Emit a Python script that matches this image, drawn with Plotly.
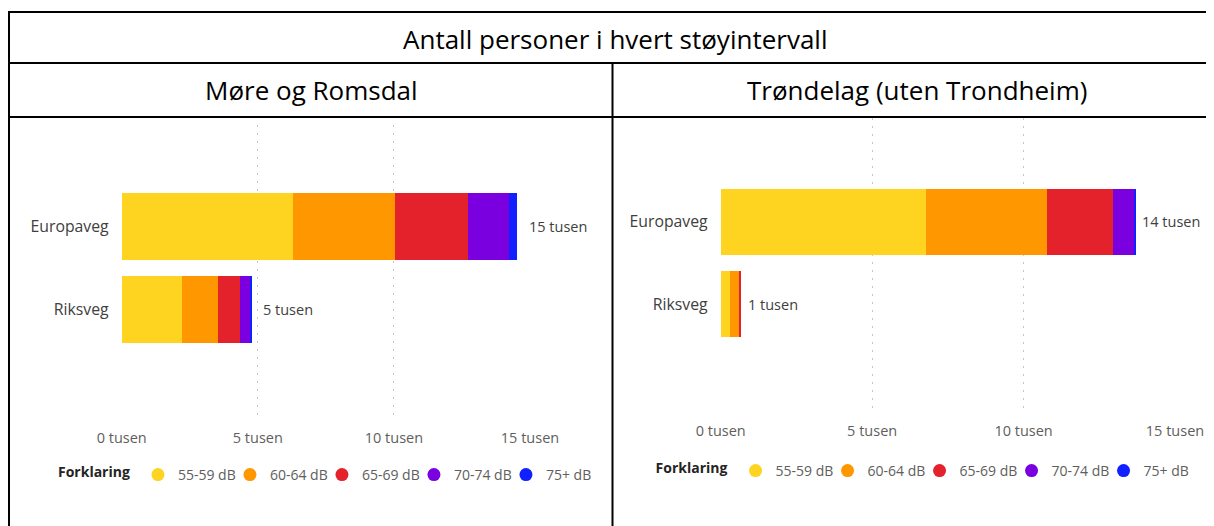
import plotly.graph_objects as go

# ---------------- data (thousands of persons) ----------------
categories = ["Europaveg", "Riksveg"]
noise_bands = ["55-59 dB", "60-64 dB", "65-69 dB", "70-74 dB", "75+ dB"]
band_colors = ["#FED420", "#FF9700", "#E3222B", "#7B00E0", "#1020FF"]

# Møre og Romsdal
mr_55_59 = [6.28, 2.22]
mr_60_64 = [3.76, 1.32]
mr_65_69 = [2.67, 0.82]
mr_70_74 = [1.53, 0.37]
mr_75p = [0.27, 0.03]

# Trøndelag (uten Trondheim)
tr_55_59 = [6.79, 0.31]
tr_60_64 = [4.00, 0.30]
tr_65_69 = [2.17, 0.07]
tr_70_74 = [0.70, 0.00]
tr_75p = [0.02, 0.00]

tick_values = [0, 5, 10, 15]
tick_unit = "tusen"

main_title = "Antall personer i hvert støyintervall"
panel_titles = ["Møre og Romsdal", "Trøndelag (uten Trondheim)"]
legend_title = "Forklaring"

# ---------------- layout helpers ----------------
# the page body has an 8px margin: the figure is drawn from (8, 8)
OFF = 8
W, H = 1214 - OFF, 526 - OFF


def fx(px):
    return (px - OFF) / W


def fy(py):
    return 1 - (py - OFF) / H


FONT = "Open Sans"
GRAY = "#605E5C"
DARK = "#252423"
LABEL = "#404040"

fig = go.Figure()

panels = [
    dict(series=[mr_55_59, mr_60_64, mr_65_69, mr_70_74, mr_75p], xa="x", ya="y",
         legend="legend", label_shift=10),
    dict(series=[tr_55_59, tr_60_64, tr_65_69, tr_70_74, tr_75p], xa="x2", ya="y2",
         legend="legend2", label_shift=5),
]

annotations = []
for p in panels:
    for band, color, vals in zip(noise_bands, band_colors, p["series"]):
        fig.add_trace(go.Bar(
            y=categories, x=vals, orientation="h", name=band,
            marker=dict(color=color, line=dict(width=0)),
            xaxis=p["xa"], yaxis=p["ya"], showlegend=False,
            hovertemplate="%{y}: %{x} tusen<extra>" + band + "</extra>",
        ))
        # legend entry with circle marker
        fig.add_trace(go.Scatter(
            x=[None], y=[None], mode="markers", name=band,
            marker=dict(color=color, size=13, symbol="circle"),
            xaxis=p["xa"], yaxis=p["ya"], legend=p["legend"],
        ))
    totals = [sum(v) for v in zip(*p["series"])]
    for cat, tot in zip(categories, totals):
        annotations.append(dict(
            x=tot, y=cat, xref=p["xa"], yref=p["ya"], xanchor="left",
            xshift=p["label_shift"], showarrow=False,
            text=f"{round(tot)} {tick_unit}",
            font=dict(family=FONT, size=14.5, color=LABEL),
        ))

fig.update_layout(barmode="stack")

# titles (table cells)
title_font = dict(family=FONT, size=26, color="black")
annotations.append(dict(
    x=fx(615), y=fy(39), xref="paper", yref="paper", showarrow=False,
    text=main_title, font=title_font, xanchor="center", yanchor="middle"))
annotations.append(dict(
    x=fx(311), y=fy(90), xref="paper", yref="paper", showarrow=False,
    text=panel_titles[0], font=title_font, xanchor="center", yanchor="middle"))
annotations.append(dict(
    x=fx(917), y=fy(90), xref="paper", yref="paper", showarrow=False,
    text=panel_titles[1], font=title_font, xanchor="center", yanchor="middle"))

# table lines
line_style = dict(color="black", width=2)
shapes = [
    dict(type="line", xref="paper", yref="paper", x0=fx(8), x1=1, y0=fy(12), y1=fy(12), line=line_style),
    dict(type="line", xref="paper", yref="paper", x0=fx(8), x1=1, y0=fy(63), y1=fy(63), line=line_style),
    dict(type="line", xref="paper", yref="paper", x0=fx(8), x1=1, y0=fy(117), y1=fy(117), line=line_style),
    dict(type="line", xref="paper", yref="paper", x0=fx(9), x1=fx(9), y0=fy(11), y1=0, line=line_style),
    dict(type="line", xref="paper", yref="paper", x0=fx(612.5), x1=fx(612.5), y0=fy(63), y1=0, line=line_style),
]

tick_text = [f"{v} {tick_unit}" for v in tick_values]
xaxis_common = dict(
    range=[0, 15], tickmode="array", tickvals=tick_values, ticktext=tick_text,
    showgrid=True, gridcolor="#C8C6C4", griddash="2px,6px", gridwidth=1,
    zeroline=False, showline=False, ticks="", fixedrange=True,
    tickfont=dict(family=FONT, size=14.5, color=GRAY), ticklabelstandoff=7,
)
yaxis_common = dict(
    type="category", categoryorder="array", categoryarray=categories,
    showgrid=False, zeroline=False, showline=False, ticks="", fixedrange=True,
    tickfont=dict(family=FONT, size=15.8, color=LABEL), ticklabelstandoff=12,
)

legend_common = dict(
    orientation="h", xanchor="left", yanchor="middle", traceorder="normal",
    title=dict(text=f"<b>{legend_title}</b>", font=dict(family=FONT, size=14, color=DARK)),
    font=dict(family=FONT, size=14, color=GRAY), itemwidth=30,
    entrywidth=47, entrywidthmode="pixels",
    bgcolor="rgba(0,0,0,0)", borderwidth=0,
)

fig.update_layout(
    width=W, height=H, margin=dict(l=0, r=0, t=0, b=0, autoexpand=False),
    paper_bgcolor="white", plot_bgcolor="white",
    xaxis=dict(domain=[fx(121.7), fx(530)], anchor="y", **xaxis_common),
    yaxis=dict(domain=[fy(420), fy(125)], anchor="x", range=[2.32, -1.21], **yaxis_common),
    xaxis2=dict(domain=[fx(720.7), fx(1175)], anchor="y2", **xaxis_common),
    yaxis2=dict(domain=[fy(413), fy(118)], anchor="x2", range=[2.32, -1.26], **yaxis_common),
    annotations=annotations, shapes=shapes,
    legend=dict(x=fx(56), y=fy(475), **legend_common),
    legend2=dict(x=fx(653.6), y=fy(471), **legend_common),
    font=dict(family=FONT),
)

fig.write_html("out.html")
